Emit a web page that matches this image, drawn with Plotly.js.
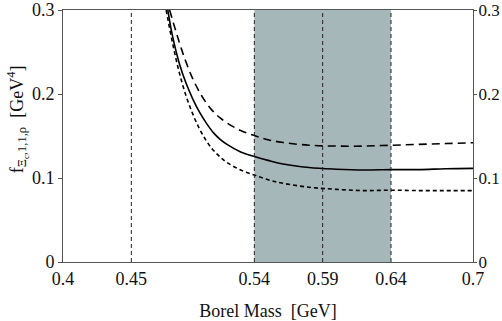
<!DOCTYPE html>
<html>
<head>
<meta charset="utf-8">
<script src="https://cdn.plot.ly/plotly-3.0.1.min.js"></script>
<style>
  body { margin: 0; background: #fff; }
  #myPlot { width: 502px; height: 321px; }
</style>
</head>
<body>
<div id="myPlot"></div>
<script>
// Borel mass values (GeV) and the three curves
var xSolid = [0.4767, 0.48, 0.485, 0.49, 0.495, 0.50, 0.505, 0.51, 0.515, 0.52, 0.53, 0.54, 0.55, 0.56, 0.58, 0.60, 0.62, 0.64, 0.66, 0.68, 0.70];
var ySolid = [0.300, 0.270, 0.237, 0.213, 0.194, 0.178, 0.165, 0.154, 0.146, 0.140, 0.131, 0.1255, 0.121, 0.117, 0.1125, 0.1105, 0.1095, 0.110, 0.110, 0.111, 0.1115];

var xUpper = [0.478, 0.485, 0.49, 0.495, 0.50, 0.505, 0.51, 0.515, 0.52, 0.53, 0.54, 0.55, 0.56, 0.58, 0.60, 0.62, 0.64, 0.66, 0.68, 0.70];
var yUpper = [0.300, 0.262, 0.238, 0.218, 0.202, 0.189, 0.179, 0.1715, 0.1655, 0.1565, 0.1505, 0.1455, 0.1425, 0.139, 0.138, 0.138, 0.139, 0.140, 0.141, 0.142];

var xLower = [0.4755, 0.48, 0.485, 0.49, 0.495, 0.50, 0.505, 0.51, 0.515, 0.52, 0.53, 0.54, 0.55, 0.56, 0.58, 0.60, 0.62, 0.64, 0.66, 0.68, 0.70];
var yLower = [0.300, 0.262, 0.226, 0.198, 0.176, 0.158, 0.144, 0.133, 0.125, 0.1185, 0.1095, 0.1035, 0.098, 0.094, 0.089, 0.0865, 0.085, 0.0855, 0.085, 0.085, 0.085];

// Borel window and marker lines
var bandRange = [0.54, 0.64];
var markLines = [0.45, 0.54, 0.59, 0.64];

var xTicks = [0.4, 0.45, 0.54, 0.59, 0.64, 0.7];
var xTickText = ["0.4", "0.45", "0.54", "0.59", "0.64", "0.7"];
var yTicks = [0, 0.1, 0.2, 0.3];
var yTickText = ["0", "0.1", "0.2", "0.3"];

var serif = "Liberation Serif";

var data = [
  {x: xUpper, y: yUpper, mode: "lines", line: {color: "#000", width: 1.6, dash: "8px,5px", shape: "spline"}},
  {x: xSolid, y: ySolid, mode: "lines", line: {color: "#000", width: 1.6, shape: "spline"}},
  {x: xLower, y: yLower, mode: "lines", line: {color: "#000", width: 1.6, dash: "4px,3px", shape: "spline"}},
  // invisible trace so the right-hand axis is drawn
  {x: [xTicks[0]], y: [yTicks[0]], yaxis: "y2", mode: "markers", marker: {opacity: 0}, hoverinfo: "skip"}
];

var shapes = [{
  type: "rect", xref: "x", yref: "paper",
  x0: bandRange[0], x1: bandRange[1], y0: 0, y1: 1,
  fillcolor: "#a6b7ba", line: {width: 0}, layer: "below"
}];
markLines.forEach(function (v) {
  shapes.push({
    type: "line", xref: "x", yref: "paper", x0: v, x1: v, y0: 0, y1: 1,
    line: {color: "#222", width: 1, dash: "4px,3px"}, layer: "above"
  });
});

var layout = {
  width: 502, height: 321,
  margin: {l: 63, r: 29, t: 10, b: 59},
  showlegend: false,
  plot_bgcolor: "#fff", paper_bgcolor: "#fff",
  font: {family: serif, size: 18, color: "#111"},
  xaxis: {
    range: [0.4, 0.7], tickvals: xTicks, ticktext: xTickText,
    tickfont: {family: serif, size: 18, color: "#111"},
    ticks: "", showgrid: false, zeroline: false,
    showline: true, linecolor: "#555", linewidth: 1, mirror: true,
    title: {text: "Borel Mass  [GeV]", font: {family: serif, size: 18, color: "#111"}, standoff: 16}
  },
  yaxis: {
    range: [0, 0.3], tickvals: yTicks, ticktext: yTickText,
    tickfont: {family: serif, size: 18, color: "#111"},
    ticks: "outside", ticklen: 4, tickcolor: "#555",
    showgrid: false, zeroline: false,
    showline: true, linecolor: "#555", linewidth: 1
  },
  yaxis2: {
    range: [0, 0.3], tickvals: yTicks, ticktext: yTickText,
    tickfont: {family: serif, size: 17, color: "#111"},
    overlaying: "y", side: "right",
    ticks: "outside", ticklen: 3, tickcolor: "#555",
    ticklabelstandoff: -2,
    showgrid: false, zeroline: false,
    showline: true, linecolor: "#555", linewidth: 1
  },
  shapes: shapes,
  annotations: [{
    text: "f<sub>Ξ<sub>c</sub>,1,1,ρ</sub>  [GeV<sup>4</sup>]",
    xref: "paper", yref: "paper", x: -0.112, y: 0.567,
    xanchor: "center", yanchor: "middle",
    textangle: -90, showarrow: false,
    font: {family: serif, size: 18, color: "#111"}
  }]
};

Plotly.newPlot("myPlot", data, layout, {displayModeBar: false, staticPlot: true});
</script>
</body>
</html>
